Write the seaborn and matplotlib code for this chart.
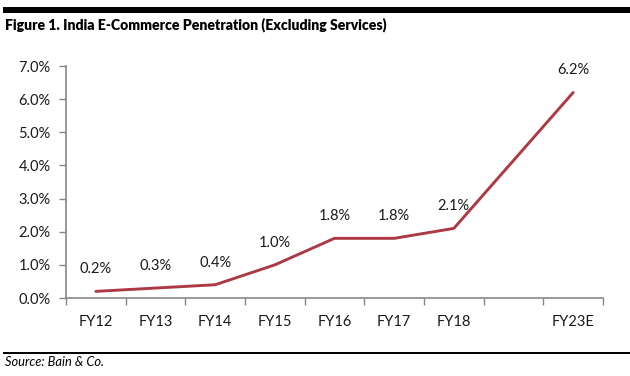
import matplotlib
matplotlib.use("Agg")
import matplotlib.pyplot as plt
import seaborn as sns
import pandas as pd
from matplotlib.patches import Rectangle
from matplotlib.ticker import FixedLocator, FuncFormatter

categories = ["FY12", "FY13", "FY14", "FY15", "FY16", "FY17", "FY18", "", "FY23E"]
years = ["FY12", "FY13", "FY14", "FY15", "FY16", "FY17", "FY18", "FY23E"]
values = [0.2, 0.3, 0.4, 1.0, 1.8, 1.8, 2.1, 6.2]
labels = ["0.2%", "0.3%", "0.4%", "1.0%", "1.8%", "1.8%", "2.1%", "6.2%"]
y_ticks = [0, 1, 2, 3, 4, 5, 6, 7]

sns.set_style("white")
plt.rcParams["font.family"] = ["Lato", "DejaVu Sans"]

pos = [categories.index(y) for y in years]
df = pd.DataFrame({"pos": pos, "value": values})

fig = plt.figure(figsize=(6.3, 3.76), dpi=100)
ax = fig.add_axes([66 / 630, 1 - 298 / 376, (603 - 66) / 630, (298 - 66) / 376])

line_color = "#AC3A45"
sns.lineplot(data=df, x="pos", y="value", ax=ax, color=line_color, linewidth=2.1)

for p, v, t in zip(pos, values, labels):
    ax.annotate(t, (p, v), xytext=(0, 16), textcoords="offset points",
                ha="center", va="center", fontsize=10.5, color="#1a1a1a")

ax.set_xlim(-0.5, len(categories) - 0.5)
ax.set_ylim(0, 7)
ax.yaxis.set_major_locator(FixedLocator(y_ticks))
ax.yaxis.set_major_formatter(FuncFormatter(lambda v, _: f"{v:.1f}%"))

bounds = [i - 0.5 for i in range(len(categories) + 1)]
ax.xaxis.set_major_locator(FixedLocator(bounds))
ax.xaxis.set_major_formatter(FuncFormatter(lambda v, _: ""))
ax.xaxis.set_minor_locator(FixedLocator(list(range(len(categories)))))
ax.set_xticklabels(categories, minor=True)

ax.tick_params(axis="x", which="major", direction="out", length=5, width=1, color="#868686", bottom=True)
ax.tick_params(axis="x", which="minor", length=0, pad=12, labelsize=10.5, labelcolor="#1a1a1a")
ax.tick_params(axis="y", which="major", direction="out", length=5, width=1, color="#868686",
               left=True, pad=6, labelsize=10.5, labelcolor="#1a1a1a")

for s in ["top", "right"]:
    ax.spines[s].set_visible(False)
for s in ["left", "bottom"]:
    ax.spines[s].set_color("#868686")
    ax.spines[s].set_linewidth(1.2)

ax.set_xlabel("")
ax.set_ylabel("")

# top bar, title, bottom rule, source
fig.add_artist(Rectangle((3 / 630, 1 - 13 / 376), 627 / 630, 6 / 376,
                         transform=fig.transFigure, color="black", lw=0))
fig.text(5 / 630, 1 - 25 / 376, "Figure 1. India E-Commerce Penetration (Excluding Services)",
         ha="left", va="center", fontsize=10.1, fontweight="heavy", color="black")
fig.add_artist(Rectangle((3 / 630, 1 - 353.5 / 376), 627 / 630, 2 / 376,
                         transform=fig.transFigure, color="black", lw=0))
fig.text(5 / 630, 1 - 362 / 376, "Source: Bain & Co.", ha="left", va="center",
         fontsize=9.3, fontstyle="italic", color="black")

fig.savefig("out.png", dpi=100)
